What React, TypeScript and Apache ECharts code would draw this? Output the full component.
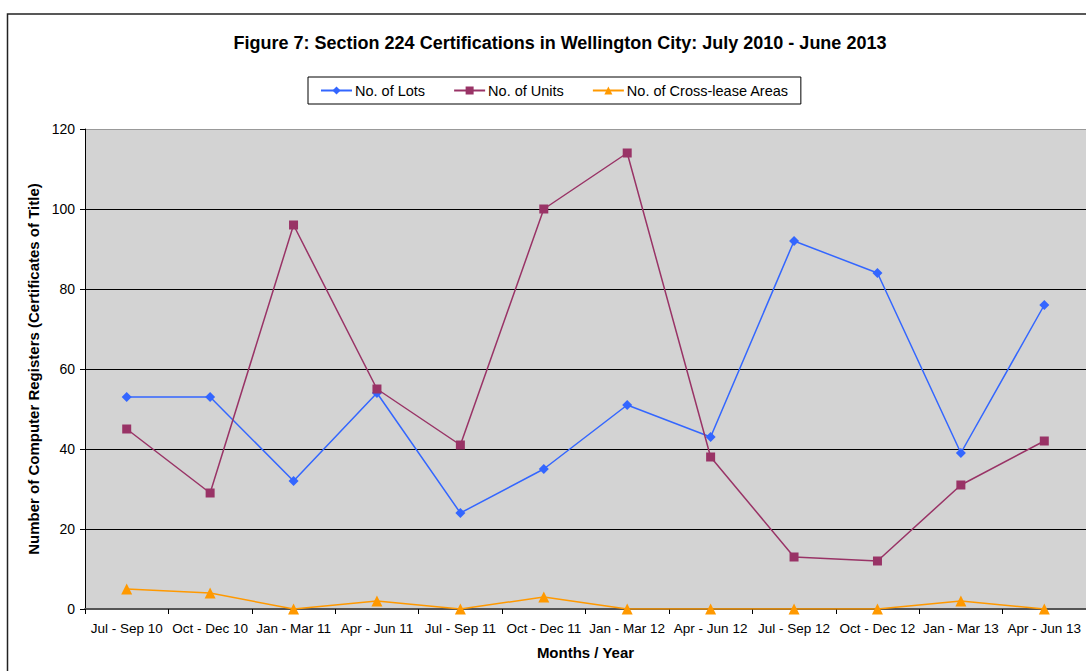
import React, { useEffect, useRef } from "react";
import * as echarts from "echarts";

const categories = [
  "Jul - Sep 10", "Oct - Dec 10", "Jan - Mar 11", "Apr - Jun 11",
  "Jul - Sep 11", "Oct - Dec 11", "Jan - Mar 12", "Apr - Jun 12",
  "Jul - Sep 12", "Oct - Dec 12", "Jan - Mar 13", "Apr - Jun 13",
];
const lots = [53, 53, 32, 54, 24, 35, 51, 43, 92, 84, 39, 76];
const units = [45, 29, 96, 55, 41, 100, 114, 38, 13, 12, 31, 42];
const crossLease = [5, 4, 0, 2, 0, 3, 0, 0, 0, 0, 2, 0];

const FONT = "'Liberation Sans', Arial, sans-serif";

export default function App() {
  const ref = useRef<HTMLDivElement>(null);
  useEffect(() => {
    if (!ref.current) return;
    const chart = echarts.init(ref.current, null, { renderer: "svg" });
    chart.setOption({
      animation: false,
      backgroundColor: "#ffffff",
      textStyle: { fontFamily: FONT },
      title: {
        text: "Figure 7: Section 224 Certifications in Wellington City: July 2010 - June 2013",
        left: 555,
        textAlign: "center",
        top: 29,
        textStyle: { fontFamily: FONT, fontSize: 18, fontWeight: "bold", color: "#000" },
      },
      graphic: [
        {
          type: "rect",
          shape: { x: 7.5, y: 14, width: 1200, height: 800 },
          style: { fill: "none", stroke: "#222", lineWidth: 1.5 },
          silent: true,
          z: -1,
        },
      ],
      legend: {
        left: 308,
        top: 77,
        borderColor: "#000",
        borderWidth: 1,
        padding: [6, 12, 6, 12],
        itemGap: 28,
        itemWidth: 31,
        itemHeight: 10,
        textStyle: { fontFamily: FONT, fontSize: 14.5, color: "#000", padding: [0, 0, 0, -2] },
        data: ["No. of Lots", "No. of Units", "No. of Cross-lease Areas"],
      },
      grid: {
        left: 85,
        top: 129,
        width: 1003,
        height: 480,
        show: true,
        backgroundColor: "#d3d3d3",
        borderWidth: 0,
      },
      xAxis: {
        type: "category",
        data: categories,
        boundaryGap: true,
        name: "Months / Year",
        nameLocation: "middle",
        nameGap: 36,
        nameTextStyle: { fontFamily: FONT, fontSize: 15, fontWeight: "bold", color: "#000" },
        axisLine: { lineStyle: { color: "#555", width: 2 } },
        axisTick: { show: true, length: 5, lineStyle: { color: "#000", width: 1 } },
        axisLabel: { fontFamily: FONT, fontSize: 13.5, color: "#000", margin: 12, interval: 0 },
      },
      yAxis: {
        type: "value",
        min: 0,
        max: 120,
        interval: 20,
        name: "Number of Computer Registers (Certificates of Title)",
        nameLocation: "middle",
        nameGap: 43,
        nameTextStyle: { fontFamily: FONT, fontSize: 15, fontWeight: "bold", color: "#000" },
        axisLine: { show: true, lineStyle: { color: "#000", width: 1 } },
        axisTick: { show: true, length: 5, lineStyle: { color: "#000" } },
        axisLabel: { fontFamily: FONT, fontSize: 14, color: "#000", margin: 10 },
        splitLine: {
          show: true,
          lineStyle: { color: ["#000", "#000", "#000", "#000", "#000", "#000", "#999"], width: 1 },
        },
      },
      series: [
        {
          name: "No. of Lots",
          type: "line",
          data: lots,
          symbol: "diamond",
          symbolSize: 10,
          color: "#3366ff",
          lineStyle: { width: 1.5, color: "#3366ff" },
          itemStyle: { color: "#3366ff" },
          z: 3,
        },
        {
          name: "No. of Units",
          type: "line",
          data: units,
          symbol: "rect",
          symbolSize: 9,
          color: "#993366",
          lineStyle: { width: 1.5, color: "#993366" },
          itemStyle: { color: "#993366" },
          z: 4,
        },
        {
          name: "No. of Cross-lease Areas",
          type: "line",
          data: crossLease,
          symbol: "triangle",
          symbolSize: 11,
          color: "#ff9900",
          lineStyle: { width: 1.5, color: "#ff9900" },
          itemStyle: { color: "#ff9900" },
          z: 5,
        },
      ],
    });
    return () => chart.dispose();
  }, []);
  return (
    <div
      ref={ref}
      style={{ position: "fixed", left: 0, top: 0, width: 1086, height: 671 }}
    />
  );
}
